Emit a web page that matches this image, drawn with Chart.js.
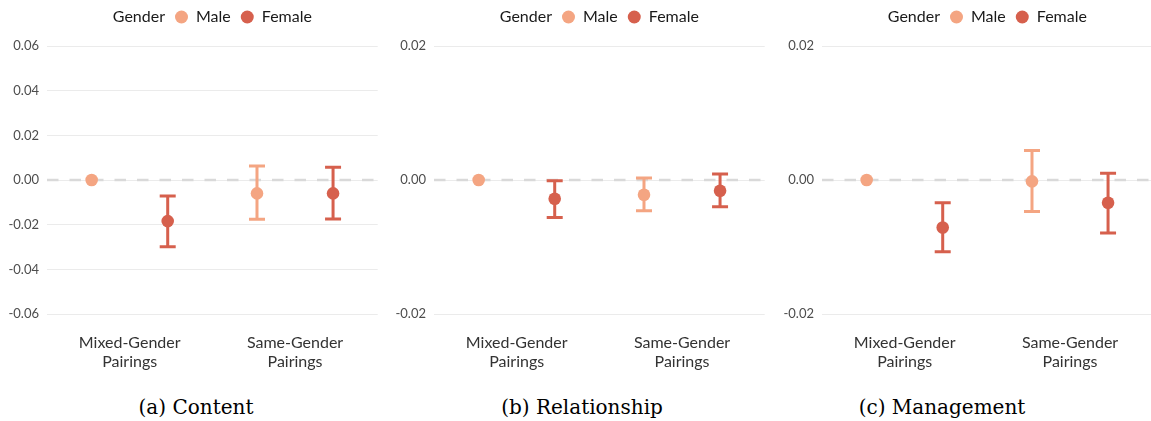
<!DOCTYPE html>
<html>
<head>
<meta charset="utf-8">
<script src="https://cdn.jsdelivr.net/npm/chart.js@4/dist/chart.umd.min.js"></script>
<style>
  html, body { margin: 0; padding: 0; background: #fff; width: 1151px; height: 421px; overflow: hidden; }
  .panel { position: absolute; top: 0; width: 384px; height: 380px; }
  .caption { position: absolute; top: 395px; width: 300px; text-align: center;
             font-family: "DejaVu Serif", serif; font-size: 20px; color: #000; }
</style>
</head>
<body>
<div class="panel" style="left:0px"><canvas id="c1" width="384" height="380"></canvas></div>
<div class="panel" style="left:387px"><canvas id="c2" width="384" height="380"></canvas></div>
<div class="panel" style="left:775px"><canvas id="c3" width="384" height="380"></canvas></div>
<div class="caption" style="left:46px">(a) Content</div>
<div class="caption" style="left:432px">(b) Relationship</div>
<div class="caption" style="left:792px">(c) Management</div>
<script>
// ---------- data ----------
const categories = ["Mixed-Gender Pairings", "Same-Gender Pairings"];
const seriesNames = ["Male", "Female"];
const legendTitle = "Gender";

// (a) Content
const contentMale        = [0.0000, -0.0060];
const contentMaleLow     = [null,   -0.0176];
const contentMaleHigh    = [null,    0.0063];
const contentFemale      = [-0.0184, -0.0060];
const contentFemaleLow   = [-0.0299, -0.0175];
const contentFemaleHigh  = [-0.0072,  0.0057];
const contentTicks       = [-0.06, -0.04, -0.02, 0.00, 0.02, 0.04, 0.06];

// (b) Relationship
const relMale        = [0.0000, -0.0022];
const relMaleLow     = [null,   -0.0046];
const relMaleHigh    = [null,    0.0003];
const relFemale      = [-0.0028, -0.0016];
const relFemaleLow   = [-0.0056, -0.0040];
const relFemaleHigh  = [-0.0001,  0.0009];
const relTicks       = [-0.02, 0.00, 0.02];

// (c) Management
const mgmtMale        = [0.0000, -0.0002];
const mgmtMaleLow     = [null,   -0.0047];
const mgmtMaleHigh    = [null,    0.0044];
const mgmtFemale      = [-0.0071, -0.0034];
const mgmtFemaleLow   = [-0.0107, -0.0079];
const mgmtFemaleHigh  = [-0.0034,  0.0010];
const mgmtTicks       = [-0.02, 0.00, 0.02];

// ---------- styles ----------
const COLORS = ["#F4A582", "#D6604D"];
const DODGE = [-0.23, 0.23];
const FONT = "Lato, 'Open Sans', sans-serif";

function pts(vals, lows, highs, s) {
  return vals.map((v, i) => ({ x: i + DODGE[s], y: v, lo: lows[i], hi: highs[i] }));
}

const errorBarPlugin = {
  id: 'errbars',
  beforeDatasetsDraw(chart) {
    const { ctx, chartArea, scales: { x, y } } = chart;
    ctx.save();
    ctx.strokeStyle = "#d9d9d9";
    ctx.lineWidth = 2.5;
    ctx.setLineDash([11.5, 11]);
    const y0 = y.getPixelForValue(0);
    ctx.beginPath();
    ctx.moveTo(chartArea.left, y0);
    ctx.lineTo(chartArea.right, y0);
    ctx.stroke();
    ctx.setLineDash([]);
    chart.data.datasets.forEach((ds) => {
      ctx.strokeStyle = ds.backgroundColor;
      ctx.lineWidth = 3;
      ds.data.forEach(p => {
        if (p.lo == null || p.hi == null) return;
        const px = x.getPixelForValue(p.x);
        const yl = y.getPixelForValue(p.lo);
        const yh = y.getPixelForValue(p.hi);
        ctx.beginPath();
        ctx.moveTo(px, yl); ctx.lineTo(px, yh);
        ctx.moveTo(px - 8, yl); ctx.lineTo(px + 8, yl);
        ctx.moveTo(px - 8, yh); ctx.lineTo(px + 8, yh);
        ctx.stroke();
      });
    });
    ctx.restore();
  }
};

const legendPlugin = {
  id: 'inlineLegend',
  afterDraw(chart) {
    const { ctx, chartArea } = chart;
    ctx.save();
    ctx.font = "16px " + FONT;
    ctx.textBaseline = "middle";
    ctx.fillStyle = "#1a1a1a";
    const r = 6.5, gapBefore = 10, gapAfter = 8;
    const titleW = ctx.measureText(legendTitle).width;
    let total = titleW;
    seriesNames.forEach(n => { total += gapBefore + 2 * r + gapAfter + ctx.measureText(n).width; });
    let cx = (chartArea.left + chartArea.right) / 2 - total / 2;
    const cy = 17;
    ctx.fillText(legendTitle, cx, cy);
    cx += titleW;
    seriesNames.forEach((n, i) => {
      cx += gapBefore + r;
      ctx.beginPath();
      ctx.fillStyle = COLORS[i];
      ctx.arc(cx, cy, r, 0, Math.PI * 2);
      ctx.fill();
      cx += r + gapAfter;
      ctx.fillStyle = "#1a1a1a";
      ctx.fillText(n, cx, cy);
      cx += ctx.measureText(n).width;
    });
    ctx.restore();
  }
};

function makeChart(id, male, maleLo, maleHi, female, femaleLo, femaleHi, ticks) {
  const yMin = ticks[0], yMax = ticks[ticks.length - 1];
  new Chart(document.getElementById(id), {
    type: 'scatter',
    data: {
      datasets: [
        { label: seriesNames[0], data: pts(male, maleLo, maleHi, 0),
          backgroundColor: COLORS[0], borderWidth: 0, pointRadius: 6.3, pointHoverRadius: 6.3 },
        { label: seriesNames[1], data: pts(female, femaleLo, femaleHi, 1),
          backgroundColor: COLORS[1], borderWidth: 0, pointRadius: 6.3, pointHoverRadius: 6.3 }
      ]
    },
    options: {
      responsive: false,
      animation: false,
      events: [],
      layout: { padding: { top: 46, left: 8, right: 6, bottom: 10 } },
      plugins: { legend: { display: false }, tooltip: { enabled: false } },
      scales: {
        x: {
          type: 'linear', min: -0.5, max: 1.5,
          grid: { display: false, drawTicks: false },
          border: { display: false },
          afterBuildTicks: s => { s.ticks = categories.map((c, i) => ({ value: i })); },
          afterFit: s => { s.height = 56; },
          ticks: {
            padding: 19,
            color: "#333333",
            font: { family: FONT, size: 16, lineHeight: 1.2 },
            autoSkip: false, maxRotation: 0,
            callback: v => categories[v] !== undefined ? categories[v].split(' ') : ''
          }
        },
        y: {
          min: yMin, max: yMax,
          grid: { color: "#ebebeb", lineWidth: 1, drawTicks: false },
          border: { display: false },
          afterBuildTicks: s => { s.ticks = ticks.map(t => ({ value: t })); },
          afterFit: s => { s.width = 39; },
          ticks: {
            padding: 8,
            color: "#4d4d4d",
            font: { family: FONT, size: 13 },
            callback: v => (Math.abs(v) < 1e-12 ? 0 : v).toFixed(2)
          }
        }
      }
    },
    plugins: [errorBarPlugin, legendPlugin]
  });
}

makeChart('c1', contentMale, contentMaleLow, contentMaleHigh, contentFemale, contentFemaleLow, contentFemaleHigh, contentTicks);
makeChart('c2', relMale, relMaleLow, relMaleHigh, relFemale, relFemaleLow, relFemaleHigh, relTicks);
makeChart('c3', mgmtMale, mgmtMaleLow, mgmtMaleHigh, mgmtFemale, mgmtFemaleLow, mgmtFemaleHigh, mgmtTicks);
</script>
</body>
</html>
